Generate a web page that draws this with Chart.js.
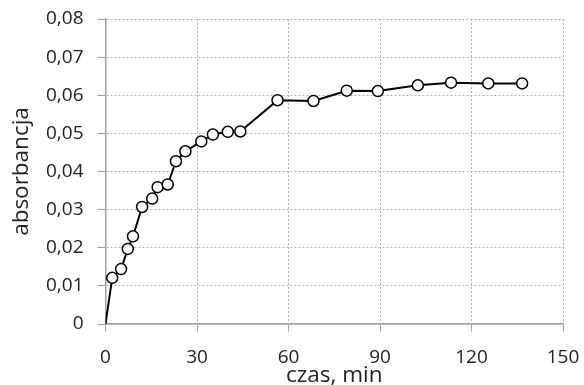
<!DOCTYPE html>
<html>
<head>
<meta charset="utf-8">
<script src="https://cdn.jsdelivr.net/npm/chart.js@4"></script>
<style>
  html, body { margin: 0; padding: 0; background: #fff; }
  #wrap { width: 584px; height: 385px; }
</style>
</head>
<body>
<div id="wrap"><canvas id="myChart"></canvas></div>
<script>
// czas [min] i absorbancja
var czas = [0, 2.2, 5.1, 7.3, 9.0, 12.0, 15.3, 17.1, 20.4, 23.1, 26.2, 31.4, 35.2, 40.1, 44.2, 56.4, 68.2, 79.1, 89.3, 102.4, 113.3, 125.5, 136.6];
var absorbancja = [0, 0.0121, 0.0144, 0.0197, 0.0230, 0.0307, 0.0329, 0.0359, 0.0366, 0.0427, 0.0453, 0.0479, 0.0497, 0.0504, 0.0505, 0.0587, 0.0585, 0.0612, 0.0611, 0.0626, 0.0633, 0.0631, 0.0631];
var xTicks = [0, 30, 60, 90, 120, 150];
var yTicks = [0, 0.01, 0.02, 0.03, 0.04, 0.05, 0.06, 0.07, 0.08];

var punkty = czas.map(function (t, i) { return { x: t, y: absorbancja[i] }; });

var tickFont = { family: '"Open Sans", sans-serif', size: 19 };
var titleFont = { family: '"Open Sans", sans-serif', size: 22.5 };

var ctx = document.getElementById('myChart').getContext('2d');
var chart = new Chart(ctx, {
    type: 'scatter',
    data: {
        datasets: [{
            data: punkty,
            showLine: true,
            borderColor: '#000',
            borderWidth: 2,
            pointBackgroundColor: '#fff',
            pointBorderColor: '#000',
            pointBorderWidth: 1.5,
            // pierwszy punkt (0,0) bez znacznika
            pointRadius: czas.map(function (t, i) { return i === 0 ? 0 : 5.5; }),
            pointHoverRadius: 5.5
        }]
    },
    options: {
        responsive: true,
        maintainAspectRatio: false,
        animation: false,
        layout: { padding: { top: 19, right: 21, left: 8.5, bottom: 0 } },
        plugins: { legend: { display: false }, tooltip: { enabled: false } },
        scales: {
            x: {
                type: 'linear',
                min: 0,
                max: 150,
                afterBuildTicks: function (axis) { axis.ticks = xTicks.map(function (v) { return { value: v }; }); },
                ticks: { color: '#222', font: tickFont, padding: 4 },
                // dluga kreska, widoczne tylko pierwsze 7px (odstep do etykiet)
                grid: { color: '#b0b0b0', tickLength: 18, tickColor: '#a0a0a0', tickBorderDash: [7, 50], tickBorderDashOffset: 0 },
                border: { color: '#a0a0a0', width: 1.5, dash: [2, 2] },
                title: { display: true, text: 'czas, min', color: '#222', font: titleFont, padding: { top: -10.8, bottom: -4 } }
            },
            y: {
                min: 0,
                max: 0.08,
                afterBuildTicks: function (axis) { axis.ticks = yTicks.map(function (v) { return { value: v }; }); },
                ticks: {
                    color: '#222',
                    font: tickFont,
                    padding: 7,
                    callback: function (v) { return v === 0 ? '0' : v.toFixed(2).replace('.', ','); }
                },
                grid: { color: '#b0b0b0', tickLength: 15, tickColor: '#a0a0a0', tickBorderDash: [8, 7], tickBorderDashOffset: 8 },
                border: { color: '#a0a0a0', width: 1.5, dash: [2, 2] },
                title: { display: true, text: 'absorbancja', color: '#222', font: titleFont, padding: { top: 0, bottom: 3.5 } }
            }
        }
    }
});
</script>
</body>
</html>
